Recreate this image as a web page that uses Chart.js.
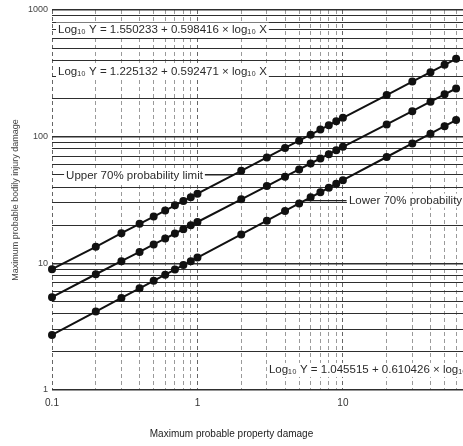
<!DOCTYPE html>
<html>
<head>
<meta charset="utf-8">
<script src="https://cdn.jsdelivr.net/npm/chart.js@4/dist/chart.umd.min.js"></script>
<style>
html,body{margin:0;padding:0;background:#fff;overflow:hidden;}
#wrap{width:463px;height:446px;position:relative;overflow:hidden;}
</style>
</head>
<body>
<div id="wrap"><canvas id="c" width="469" height="446"></canvas></div>
<script>
// Maximum probable property damage (x)
const damageX = [0.1,0.2,0.3,0.4,0.5,0.6,0.7,0.8,0.9,1,2,3,4,5,6,7,8,9,10,20,30,40,50,60];
// Upper line (Log10 Y = 1.550233 + 0.598416 x log10 X)
const upperY = [9.0,13.5,17.3,20.5,23.4,26.1,28.7,31.1,33.3,35.5,53.7,68.5,81.4,93.0,103.7,113.7,123.2,132.2,140.8,213,272,323,369,412];
// Middle line (as drawn)
const middleY = [5.4,8.2,10.4,12.3,14.1,15.7,17.2,18.6,20.0,21.2,32.0,40.7,48.3,55.1,61.4,67.3,72.8,78.1,83.1,125,159,189,216,240];
// Lower line (Log10 Y = 1.045515 + 0.610426 x log10 X)
const lowerY = [2.72,4.16,5.33,6.35,7.27,8.13,8.93,9.69,10.4,11.1,16.9,21.7,25.9,29.7,33.2,36.4,39.5,42.5,45.3,69.1,88.5,105.5,120.9,135.2];

const xGridTicks = [0.1,0.2,0.3,0.4,0.5,0.6,0.7,0.8,0.9,1,2,3,4,5,6,7,8,9,10,20,30,40,50,60];
const xLabelTicks = [0.1,1,10];
const yGridTicks = [1,2,3,4,5,6,7,8,9,10,20,30,40,50,60,70,80,90,100,200,300,400,500,600,700,800,900,1000];
const yLabelTicks = [1,10,100,1000];
const xTitle = 'Maximum probable property damage';
const yTitle = 'Maximum probable bodily injury damage';

const annoTexts = [
  'Log\u2081\u2080 Y = 1.550233 + 0.598416 \u00d7 log\u2081\u2080 X',
  'Log\u2081\u2080 Y = 1.225132 + 0.592471 \u00d7 log\u2081\u2080 X',
  'Upper 70% probability limit',
  'Lower 70% probability',
  'Log\u2081\u2080 Y = 1.045515 + 0.610426 \u00d7 log\u2081\u2080 X'
];
const annoX = [0.11, 0.11, 0.125, 11.0, 3.1];
const annoY = [700, 325, 49, 31.3, 1.44];
// leader lines [x1,y1,x2,y2]
const leaders = [[0.9,50,1.75,50],[5.47,31.3,10.6,31.3]];

function mk(ys){ return damageX.map((x,i)=>({x:x,y:ys[i]})); }

const annoPlugin = {
  id:'anno',
  beforeDatasetsDraw(chart){
    const ctx = chart.ctx, xs = chart.scales.x, ys = chart.scales.y;
    ctx.save();
    ctx.font = '11.5px "Liberation Sans", Arial, sans-serif';
    ctx.textBaseline = 'middle';
    ctx.textAlign = 'left';
    ctx.strokeStyle = '#222'; ctx.lineWidth = 1.3;
    leaders.forEach(l=>{
      ctx.beginPath();
      ctx.moveTo(xs.getPixelForValue(l[0]), ys.getPixelForValue(l[1]));
      ctx.lineTo(xs.getPixelForValue(l[2]), ys.getPixelForValue(l[3]));
      ctx.stroke();
    });
    annoTexts.forEach((t,i)=>{
      const px = xs.getPixelForValue(annoX[i]);
      const py = ys.getPixelForValue(annoY[i]);
      const w = ctx.measureText(t).width;
      ctx.fillStyle = '#fff';
      ctx.fillRect(px-2, py-7, w+4, 14);
      ctx.fillStyle = '#2a2a2a';
      ctx.fillText(t, px, py);
    });
    ctx.restore();
  },
  afterDraw(chart){
    // x-axis title centred on the visible page width
    const ctx = chart.ctx;
    const visibleW = document.getElementById('wrap').clientWidth;
    ctx.save();
    ctx.font = '10px "Liberation Sans", Arial, sans-serif';
    ctx.fillStyle = '#222';
    ctx.textAlign = 'center';
    ctx.textBaseline = 'middle';
    ctx.fillText(xTitle, visibleW/2, chart.height - 12);
    ctx.restore();
  }
};

const lineStyle = {
  showLine:true, borderColor:'#111', backgroundColor:'#111', borderWidth:2,
  pointRadius:3, pointHoverRadius:3, pointBackgroundColor:'#111', pointBorderColor:'#111', pointStyle:'circle'
};

new Chart(document.getElementById('c'), {
  type:'scatter',
  data:{
    datasets:[
      Object.assign({label:'Upper', data:mk(upperY)}, lineStyle),
      Object.assign({label:'Middle', data:mk(middleY)}, lineStyle),
      Object.assign({label:'Lower', data:mk(lowerY)}, lineStyle)
    ]
  },
  options:{
    responsive:false, animation:false, clip:false,
    layout:{padding:{top:10,right:0,left:0,bottom:0}},
    plugins:{legend:{display:false}, tooltip:{enabled:false}},
    scales:{
      x:{
        type:'logarithmic', min:0.1, max:68,
        afterBuildTicks(s){ s.ticks = xGridTicks.map(v=>({value:v})); },
        afterFit(s){ s.height = 56; },
        ticks:{
          autoSkip:false, maxRotation:0, padding:7,
          color:'#333', font:{family:'"Liberation Sans", Arial, sans-serif', size:10},
          callback(v){ return xLabelTicks.includes(v) ? String(v) : ''; }
        },
        grid:{
          drawTicks:false,
          color(c){ const v=c.tick&&c.tick.value; return xLabelTicks.includes(v) ? '#666' : '#9a9a9a'; },
          lineWidth:1
        },
        border:{display:false, dash:[4,3]},
        title:{display:false}
      },
      y:{
        type:'logarithmic', min:1, max:1000,
        afterBuildTicks(s){ s.ticks = yGridTicks.map(v=>({value:v})); },
        afterFit(s){ s.width = 52; },
        ticks:{
          autoSkip:false, padding:4,
          color:'#444', font:{family:'"Liberation Sans", Arial, sans-serif', size:9},
          callback(v){ return yLabelTicks.includes(v) ? String(v) : ''; }
        },
        grid:{
          drawTicks:false,
          color(c){ return '#2e2e2e'; },
          lineWidth(c){ const v=c.tick&&c.tick.value; return yLabelTicks.includes(v) ? 1.6 : 1.1; }
        },
        border:{display:false},
        title:{display:true, text:yTitle, color:'#444',
          font:{family:'"Liberation Sans", Arial, sans-serif', size:9}, padding:{top:10,bottom:0}}
      }
    }
  },
  plugins:[annoPlugin]
});
</script>
</body>
</html>
